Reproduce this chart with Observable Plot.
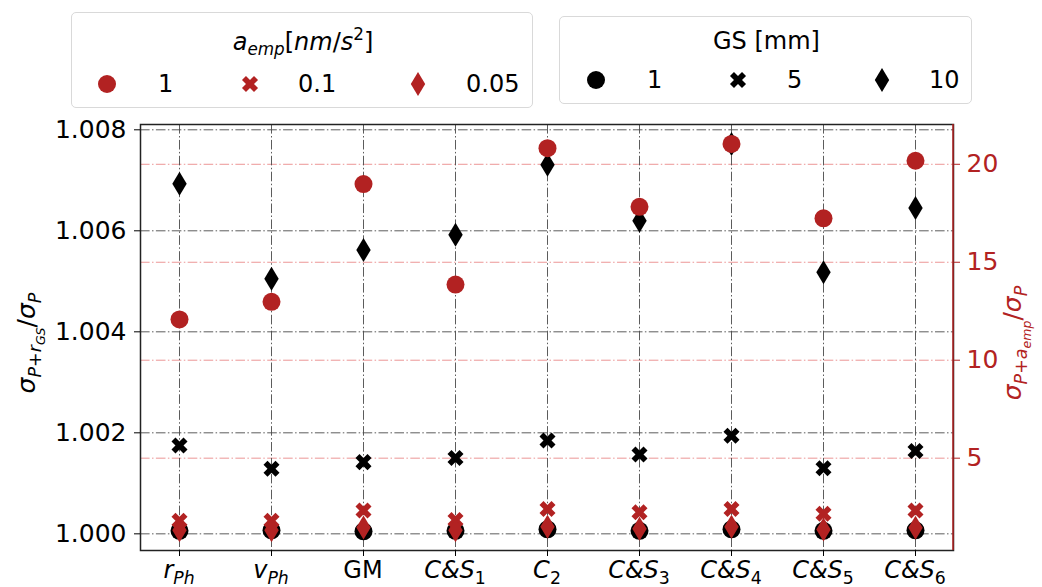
<!DOCTYPE html>
<html><head><meta charset="utf-8">
<script src="https://cdn.jsdelivr.net/npm/d3@7"></script>
<script src="https://cdn.jsdelivr.net/npm/@observablehq/plot@0.6"></script>
<style>
body{margin:0;background:#fff;font-family:"DejaVu Sans",sans-serif;}
#wrap{width:1042px;height:587px;position:relative;overflow:hidden;background:#fff}
#legend{position:relative;height:116px}
.box{position:absolute;border:1.5px solid #d9d9d9;border-radius:5px;background:#fff;box-sizing:border-box}
.lt{position:absolute;font-size:24px;white-space:nowrap;transform:translate(-50%,-50%);line-height:1}
.ll{position:absolute;font-size:24px;transform:translateY(-50%);line-height:1;white-space:nowrap}
.lm{position:absolute;overflow:visible}
sub{font-size:70%;vertical-align:-0.3em}
sup{font-size:70%;vertical-align:0.55em}
#chart svg{display:block}
</style></head><body><div id="wrap"><div id="legend"></div><div id="chart"></div></div>
<script>
// ---- data ----
const categories = ["rPh","vPh","GM","CS1","C2","CS3","CS4","CS5","CS6"];
const tickMain   = ["r","v","GM","C&S","C","C&S","C&S","C&S","C&S"];
const tickSub    = ["Ph","Ph","","1","2","3","4","5","6"];
const tickItalic = [true,true,false,true,true,true,true,true,true];

// GS [mm] series (left axis)
const gs1  = [1.00006, 1.00007, 1.00005, 1.00006, 1.00009, 1.00006, 1.00009, 1.00006, 1.00007];
const gs5  = [1.00175, 1.00129, 1.00142, 1.00150, 1.00185, 1.00157, 1.00194, 1.00130, 1.00164];
const gs10 = [1.00693, 1.00505, 1.00562, 1.00592, 1.00731, 1.00620, 1.00772, 1.00518, 1.00645];
// a_emp [nm/s^2] series (right axis)
const a1   = [12.08, 12.98, 18.99, 13.86, 20.82, 17.83, 21.04, 17.24, 20.18];
const a01  = [1.81, 1.81, 2.33, 1.85, 2.41, 2.24, 2.41, 2.16, 2.33];
const a005 = [1.32, 1.32, 1.46, 1.32, 1.50, 1.40, 1.50, 1.36, 1.45];

const leftTicks  = [1.000, 1.002, 1.004, 1.006, 1.008];
const rightTicks = [5, 10, 15, 20];
const aempLevels = ["1", "0.1", "0.05"];
const gsLevels   = ["1", "5", "10"];

// ---- styling helpers ----
const RED = "#b22222";
const toLeft   = r => 1 + (r - 1.139) / (21.76 - 1.139) * 0.008;
const fromLeft = l => 1.139 + (l - 1) / 0.008 * (21.76 - 1.139);
const rows = arr => categories.map((c, i) => ({cat: c, v: arr[i]}));

// matplotlib-like filled X and thin diamond
const symX = {draw(ctx, size) {
  const L = Math.sqrt(size / Math.PI), w = L / 3;
  const pts = [[-w,-L],[w,-L],[w,-w],[L,-w],[L,w],[w,w],[w,L],[-w,L],[-w,w],[-L,w],[-L,-w],[-w,-w]];
  const c = Math.SQRT1_2;
  pts.forEach(([x,y], i) => { const X = (x - y) * c, Y = (x + y) * c; i ? ctx.lineTo(X, Y) : ctx.moveTo(X, Y); });
  ctx.closePath();
}};
const symD = {draw(ctx, size) {
  const H = Math.sqrt(size / Math.PI), W = H * 0.6;
  ctx.moveTo(0, -H); ctx.lineTo(W, 0); ctx.lineTo(0, H); ctx.lineTo(-W, 0); ctx.closePath();
}};
const symbols = [{type: d3.symbolCircle, r: 9}, {type: symX, r: 8.5}, {type: symD, r: 12}];

const dash = "9.6,2.4,1.5,2.4";

function mathText(parent, segs, size, subScale = 0.7, subOff = 0.24) {
  const t = parent;
  let cur = 0;
  const sizes = [size, size * subScale, size * 0.5];
  const offs = [0, size * subOff, size * 0.38];
  segs.forEach(([txt, it, lvl]) => {
    const sp = t.append("tspan").text(txt).attr("font-size", sizes[lvl]);
    const d = offs[lvl] - cur;
    if (d) sp.attr("dy", d);
    cur = offs[lvl];
    if (it) sp.attr("font-style", "italic");
  });
  return t;
}

function xLabels(index, scales, values, dims) {
  const g = d3.create("svg:g").attr("font-family", "DejaVu Sans").attr("fill", "black").attr("text-anchor", "middle");
  categories.forEach((c, i) => {
    const t = g.append("text").attr("x", scales.x(c)).attr("y", dims.height - dims.marginBottom + 28);
    const segs = [[tickMain[i], tickItalic[i], 0]];
    if (tickSub[i]) segs.push([tickSub[i], !/\d/.test(tickSub[i]), 1]);
    mathText(t, segs, 24, 0.72, 0.25);
  });
  return g.node();
}
function yLabelLeft(index, scales, values, dims) {
  const t = d3.create("svg:text").attr("font-family", "DejaVu Sans").attr("fill", "black")
    .attr("text-anchor", "middle").attr("transform", "translate(35,227) rotate(-90)");
  mathText(t, [["σ",1,0],["P",1,1],["+",0,1],["r",1,1],["GS",1,2],["/",0,0],["σ",1,0],["P",1,1]], 25);
  return t.node();
}
function yLabelRight(index, scales, values, dims) {
  const t = d3.create("svg:text").attr("font-family", "DejaVu Sans").attr("fill", RED)
    .attr("text-anchor", "middle").attr("transform", "translate(1021,227) rotate(-90)");
  mathText(t, [["σ",1,0],["P",1,1],["+",0,1],["a",1,1],["emp",1,2],["/",0,0],["σ",1,0],["P",1,1]], 25);
  return t.node();
}
function rightSpine(index, scales, values, dims) {
  const x = dims.width - dims.marginRight;
  return d3.create("svg:line").attr("x1", x).attr("x2", x)
    .attr("y1", dims.marginTop).attr("y2", dims.height - dims.marginBottom)
    .attr("stroke", RED).attr("stroke-width", 1.5).node();
}

const chart = Plot.plot({
  width: 1042, height: 471,
  marginLeft: 140, marginRight: 89, marginTop: 8, marginBottom: 37,
  x: {type: "point", domain: categories, padding: 0.4},
  y: {domain: [0.99967, 1.008105]},
  style: {fontFamily: "DejaVu Sans", fontSize: "25px", color: "black", background: "white", overflow: "visible"},
  marks: [
    Plot.gridY(rightTicks.map(toLeft), {stroke: "#e05050", strokeOpacity: 0.6, strokeWidth: 1, strokeDasharray: dash}),
    Plot.gridY(leftTicks, {stroke: "#4a4a4a", strokeOpacity: 0.9, strokeWidth: 1, strokeDasharray: dash}),
    Plot.gridX({stroke: "#4a4a4a", strokeOpacity: 0.9, strokeWidth: 1, strokeDasharray: dash}),
    Plot.frame({stroke: "#222", strokeWidth: 1.5}),
    rightSpine,
    Plot.axisY(leftTicks, {anchor: "left", tickSize: 6, tickPadding: 8, fontSize: 25, tickFormat: d3.format(".3f"), label: null}),
    Plot.axisY(rightTicks.map(toLeft), {anchor: "right", tickSize: 6, tickPadding: 7, fontSize: 25, color: RED, stroke: RED, fill: RED, tickFormat: v => String(Math.round(fromLeft(v))), label: null}),
    Plot.axisX({tickSize: 6, tickFormat: () => "", label: null}),
    xLabels, yLabelLeft, yLabelRight,
    Plot.dot(rows(gs1),  {x: "cat", y: "v", r: symbols[0].r, fill: "black", symbol: symbols[0].type}),
    Plot.dot(rows(gs5),  {x: "cat", y: "v", r: symbols[1].r, fill: "black", symbol: symbols[1].type}),
    Plot.dot(rows(gs10), {x: "cat", y: "v", r: symbols[2].r, fill: "black", symbol: symbols[2].type}),
    Plot.dot(rows(a1),   {x: "cat", y: d => toLeft(d.v), r: symbols[0].r, fill: RED, symbol: symbols[0].type}),
    Plot.dot(rows(a01),  {x: "cat", y: d => toLeft(d.v), r: symbols[1].r, fill: RED, symbol: symbols[1].type}),
    Plot.dot(rows(a005), {x: "cat", y: d => toLeft(d.v), r: symbols[2].r, fill: RED, symbol: symbols[2].type})
  ]
});
document.getElementById("chart").appendChild(chart);

// ---- legends ----
const legend = document.getElementById("legend");
function markerSVG(sym, color) {
  const s = 30;
  const d = d3.symbol().type(sym.type).size(Math.PI * sym.r * sym.r)();
  return `<svg class="lm" width="${s}" height="${s}" viewBox="${-s/2} ${-s/2} ${s} ${s}"><path d="${d}" fill="${color}"/></svg>`;
}
function addBox(left, top, w, h, titleHTML, titleY, rowY, levels, color, markX, labelX) {
  const box = document.createElement("div");
  box.className = "box";
  Object.assign(box.style, {left: left + "px", top: top + "px", width: w + "px", height: h + "px"});
  let html = `<div class="lt" style="left:${w/2}px;top:${titleY}px">${titleHTML}</div>`;
  levels.forEach((lv, i) => {
    html += `<div style="position:absolute;left:${markX[i]-15}px;top:${rowY-15}px;width:30px;height:30px">${markerSVG(symbols[i], color)}</div>`;
    html += `<div class="ll" style="left:${labelX[i]}px;top:${rowY}px">${lv}</div>`;
  });
  box.innerHTML = html;
  legend.appendChild(box);
}
addBox(71, 12, 462, 96, `<i>a</i><sub><i>emp</i></sub>[<i>nm</i>/<i>s</i><sup>2</sup>]`, 29, 71, aempLevels, RED, [35, 178, 346], [86, 226, 394]);
addBox(559, 16, 413, 88, `GS [mm]`, 24, 63, gsLevels, "black", [36, 178, 322], [87, 227, 369]);
</script></body></html>
